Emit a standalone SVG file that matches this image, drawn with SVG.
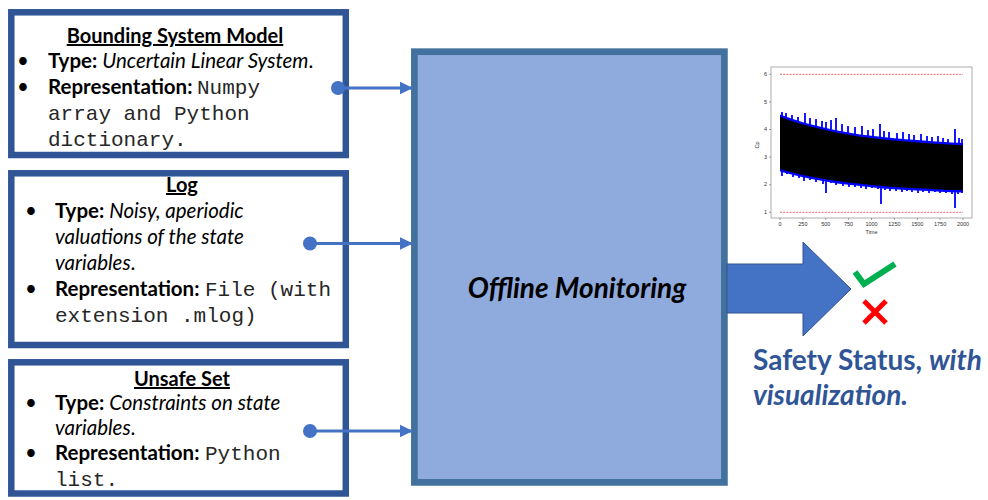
<svg xmlns="http://www.w3.org/2000/svg" width="988" height="500" viewBox="0 0 988 500">
<defs>
<style>
.box{fill:#fff;stroke:#2F5597;stroke-width:6.5}
.t{font-family:Lato,"Liberation Sans",sans-serif;font-size:20.5px;fill:#000}
.b{font-weight:bold}
.i{font-style:italic}
.m{font-family:"Liberation Mono","Courier New",monospace;font-size:21px;font-weight:normal;font-style:normal;fill:#262626}
.h{font-weight:bold;text-decoration:underline;text-anchor:middle;font-size:20px}
.big{font-size:28px}
.blue{fill:#2F5597}
.con{stroke:#4472C4;stroke-width:3;fill:none}
.dot{fill:#4472C4}
.ax{font-family:"Liberation Sans",sans-serif;font-size:5.5px;fill:#333}
</style>
<marker id="ah" markerUnits="userSpaceOnUse" markerWidth="14" markerHeight="14" refX="13" refY="7" orient="auto">
<path d="M0,0.7 L13,7 L0,13.3 Z" fill="#4472C4"/>
</marker>
</defs>

<g id="offline-monitoring">
<rect x="414.4" y="51.7" width="310" height="430.7" fill="#8FAADC" stroke="#41719C" stroke-width="6.7"/>
<text x="577" y="298" class="t b i big" text-anchor="middle">Offline Monitoring</text>
</g>

<g id="bounding-system-model">
<rect class="box" x="11.3" y="12.3" width="334.5" height="142.7"/>
<text class="t h" x="175" y="43">Bounding System Model</text>
<text class="t" x="17" y="68">•</text>
<text class="t" x="48" y="68"><tspan class="b">Type: </tspan><tspan class="i">Uncertain Linear System</tspan>.</text>
<text class="t" x="17" y="94">•</text>
<text class="t" x="48" y="94"><tspan class="b">Representation:</tspan><tspan class="m" x="197">Numpy</tspan></text>
<text class="m" x="48" y="120">array and Python</text>
<text class="m" x="48" y="146">dictionary.</text>
</g>

<g id="log">
<rect class="box" x="11.3" y="173.3" width="334.5" height="171.7"/>
<text class="t h" x="182" y="192">Log</text>
<text class="t" x="25" y="218">•</text>
<text class="t" x="55" y="218"><tspan class="b">Type: </tspan><tspan class="i">Noisy, aperiodic</tspan></text>
<text class="t i" x="55" y="244">valuations of the state</text>
<text class="t" x="55" y="270"><tspan class="i">variables</tspan>.</text>
<text class="t" x="25" y="296">•</text>
<text class="t" x="55" y="296"><tspan class="b">Representation:</tspan><tspan class="m" x="205">File (with</tspan></text>
<text class="m" x="55" y="322">extension .mlog)</text>
</g>

<g id="unsafe-set">
<rect class="box" x="11.3" y="362.3" width="334.5" height="131.2"/>
<text class="t h" x="182" y="386">Unsafe Set</text>
<text class="t" x="25" y="410">•</text>
<text class="t" x="55" y="410"><tspan class="b">Type: </tspan><tspan class="i">Constraints on state</tspan></text>
<text class="t" x="55" y="435"><tspan class="i">variables</tspan>.</text>
<text class="t" x="25" y="460">•</text>
<text class="t" x="55" y="460"><tspan class="b">Representation:</tspan><tspan class="m" x="205">Python</tspan></text>
<text class="m" x="55" y="486">list.</text>
</g>

<g id="connectors">
<circle class="dot" cx="338" cy="88" r="7"/>
<line class="con" x1="338" y1="88" x2="413" y2="88" marker-end="url(#ah)"/>
<circle class="dot" cx="310" cy="243.5" r="7"/>
<line class="con" x1="310" y1="243.5" x2="413" y2="243.5" marker-end="url(#ah)"/>
<circle class="dot" cx="310" cy="431" r="7"/>
<line class="con" x1="310" y1="431" x2="413" y2="431" marker-end="url(#ah)"/>
<polygon points="727,264 803,264 803,242 851,289 803,336 803,313 727,313" fill="#4472C4" stroke="#2F528F" stroke-width="1"/>
</g>

<g id="safety-status">
<polyline points="855,272 864,284 895,264" fill="none" stroke="#00B050" stroke-width="6"/>
<path d="M864,301 L886,323 M886,301 L864,323" stroke="#FF0000" stroke-width="5" fill="none"/>
<text class="t b big blue" x="753" y="370">Safety Status, <tspan class="i">with</tspan></text>
<text class="t b i big blue" x="753" y="405">visualization.</text>
</g>

<g id="chart">
<rect x="771" y="67" width="201" height="151" fill="#fff" stroke="#999" stroke-width="0.8"/>
<g stroke="#666" stroke-width="0.6">
<path d="M771,74.3 h-2 M771,101.9 h-2 M771,129.5 h-2 M771,157.1 h-2 M771,184.7 h-2 M771,212.3 h-2"/>
<path d="M780,218 v2 M802.9,218 v2 M825.8,218 v2 M848.6,218 v2 M871.5,218 v2 M894.4,218 v2 M917.3,218 v2 M940.1,218 v2 M963,218 v2"/>
</g>
<g class="ax" text-anchor="end">
<text x="767" y="76">6</text><text x="767" y="104">5</text><text x="767" y="131">4</text><text x="767" y="159">3</text><text x="767" y="186">2</text><text x="767" y="214">1</text>
</g>
<g class="ax" text-anchor="middle">
<text x="780" y="226">0</text><text x="802.9" y="226">250</text><text x="825.8" y="226">500</text><text x="848.6" y="226">750</text><text x="871.5" y="226">1000</text><text x="894.4" y="226">1250</text><text x="917.3" y="226">1500</text><text x="940.1" y="226">1750</text><text x="963" y="226">2000</text>
<text x="871.5" y="234">Time</text>
<text transform="translate(759,145) rotate(-90)">Cp</text>
</g>
<path d="M780,74.3 H963 M780,212.3 H963" stroke="#FF4040" stroke-width="0.8" stroke-dasharray="2,1.2"/>
<polygon fill="#0000FF" points="780,114.5 791.4,118.6 802.9,122.2 814.3,125.2 825.8,128 837.2,130.5 848.6,132.4 860.1,134.4 871.5,135.7 882.9,137.1 894.4,138.2 905.8,139.3 917.3,140.1 928.7,141 940.1,141.8 951.6,142.4 963,142.9 963,192.5 951.6,192.2 940.1,191.7 928.7,191.1 917.3,190.6 905.8,190 894.4,189.2 882.9,188.4 871.5,187.3 860.1,186.1 848.6,184.8 837.2,183.4 825.8,181.5 814.3,179.5 802.9,177.3 791.4,174.6 780,171.5"/>
<path stroke="#0000FF" stroke-width="1.8" fill="none" d="M782,112V160 M786,113V160 M792,115V160 M798,117V160 M805,113V160 M810,118V160 M816,119V160 M822,121V160 M826,122V160 M831,120V160 M836,118V160 M842,124V160 M848,126V160 M855,127V160 M862,126V160 M868,130V160 M873,129V160 M880,124V160 M884,131V160 M889,132V160 M897,133V160 M903,132V160 M909,134V160 M914,135V160 M921,134V160 M927,136V160 M932,137V160 M938,136V160 M943,138V160 M948,139V160 M955,129V160 M959,138V160 M962,139V160 M782,176V160 M787,174V160 M793,177V160 M799,178V160 M804,181V160 M810,180V160 M816,182V160 M823,184V160 M826,193V160 M831,183V160 M836,185V160 M843,186V160 M849,187V160 M855,187V160 M861,188V160 M866,189V160 M872,188V160 M878,189V160 M881,204V160 M885,190V160 M890,191V160 M896,191V160 M902,192V160 M907,191V160 M912,192V160 M918,193V160 M923,192V160 M929,193V160 M935,192V160 M940,193V160 M946,193V160 M952,194V160 M955,208V160 M958,194V160 M962,193V160"/>
<polygon fill="#000" points="780,116.8 791.4,120.9 802.9,124.5 814.3,127.5 825.8,130.3 837.2,132.8 848.6,134.7 860.1,136.7 871.5,138 882.9,139.4 894.4,140.5 905.8,141.6 917.3,142.4 928.7,143.3 940.1,144.1 951.6,144.7 963,145.2 963,190.2 951.6,189.9 940.1,189.4 928.7,188.8 917.3,188.3 905.8,187.7 894.4,186.9 882.9,186.1 871.5,185 860.1,183.8 848.6,182.5 837.2,181.1 825.8,179.2 814.3,177.2 802.9,175 791.4,172.3 780,169.2"/>
</g>
</svg>
